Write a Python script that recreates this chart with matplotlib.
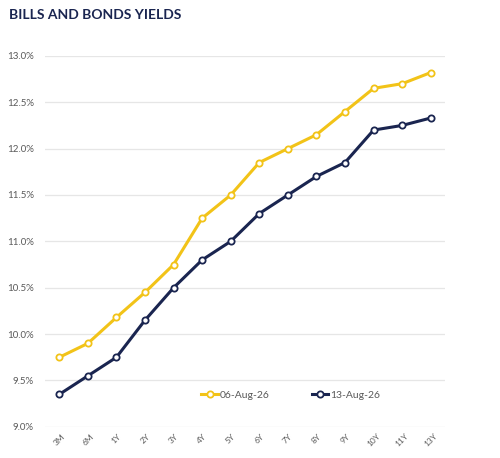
import matplotlib
matplotlib.use("Agg")
import matplotlib.pyplot as plt
import numpy as np

plt.rcParams['font.family'] = ['Lato', 'DejaVu Sans']

# tenors and yields (%)
tenors = ['3M', '6M', '1Y', '2Y', '3Y', '4Y', '5Y', '6Y', '7Y', '8Y', '9Y', '10Y', '11Y', '13Y']
y_aug06 = [9.75, 9.90, 10.18, 10.45, 10.75, 11.25, 11.50, 11.85, 12.00, 12.15, 12.40, 12.65, 12.70, 12.82]
y_aug13 = [9.35, 9.55, 9.75, 10.15, 10.50, 10.80, 11.00, 11.30, 11.50, 11.70, 11.85, 12.20, 12.25, 12.33]
labels = ['06-Aug-26', '13-Aug-26']

yellow = '#F2C318'
navy = '#1A2550'

fig = plt.figure(figsize=(5.0, 4.58), dpi=100)
ax = fig.add_axes([0.09, 0.068, 0.80, 0.81])

x = np.arange(len(tenors))
ax.plot(x, y_aug06, color=yellow, lw=2.2, marker='o', ms=4.5,
        mfc='white', mec=yellow, mew=1.3, label=labels[0], zorder=3)
ax.plot(x, y_aug13, color=navy, lw=2.2, marker='o', ms=4.5,
        mfc='white', mec=navy, mew=1.3, label=labels[1], zorder=3)

ax.set_xlim(-0.5, len(tenors) - 0.5)
ax.set_ylim(9.0, 13.0)
ax.set_yticks(np.arange(9.0, 13.01, 0.5))
ax.set_yticklabels(['%.1f%%' % v for v in np.arange(9.0, 13.01, 0.5)])
ax.set_xticks(x)
ax.set_xticklabels(tenors, rotation=45, ha='center', va='top')

ax.grid(axis='y', color='#E6E6E6', lw=0.9)
ax.set_axisbelow(True)
for s in ax.spines.values():
    s.set_visible(False)
ax.tick_params(axis='both', length=0, colors='#595959', labelsize=7)
ax.tick_params(axis='x', labelsize=6, pad=4)
ax.tick_params(axis='y', pad=8)

ax.legend(loc='center', bbox_to_anchor=(0.615, 0.085), ncol=2, frameon=False,
          fontsize=7.5, labelcolor='#595959', handlelength=1.6,
          handletextpad=0.2, columnspacing=4.0)

fig.text(0.018, 0.967, 'BILLS AND BONDS YIELDS', fontsize=10, fontweight='bold',
         color=navy, ha='left', va='center')

fig.savefig('out.png', dpi=100)
